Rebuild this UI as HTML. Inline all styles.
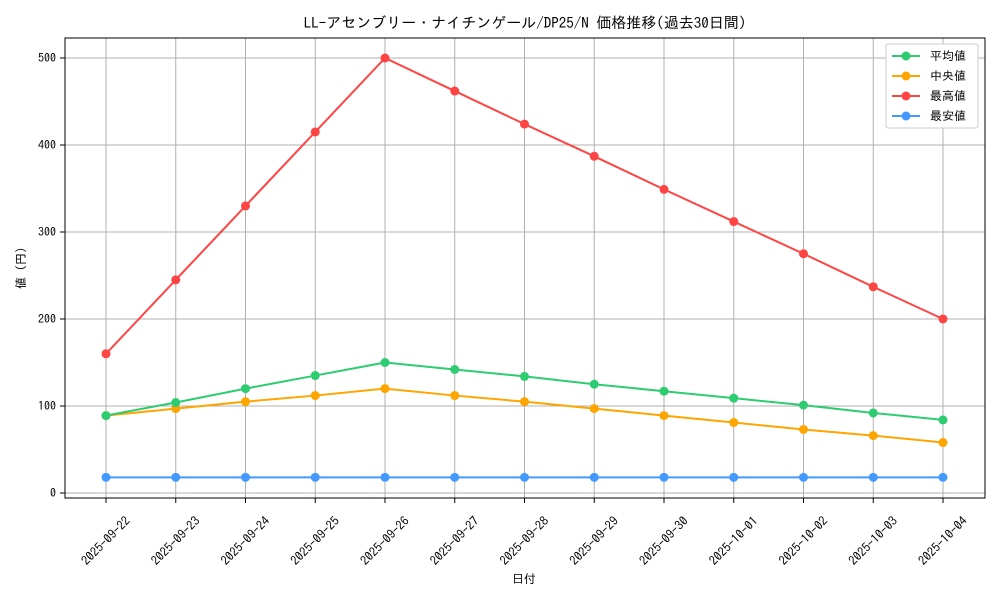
<!DOCTYPE html>
<html><head><meta charset="utf-8"><style>
html,body{margin:0;padding:0;background:#fff;}
svg text{font-family:"IPAGothic","Noto Sans CJK JP",sans-serif;fill:#000;}
</style></head><body>
<svg width="1000" height="600" xmlns="http://www.w3.org/2000/svg">
<rect width="1000" height="600" fill="#fff"/>
<text x="525" y="28" font-size="15" text-anchor="middle">LL-アセンブリー・ナイチンゲール/DP25/N 価格推移(過去30日間)</text>
<g stroke="#b0b0b0" stroke-width="1">
<line x1="106" y1="38" x2="106" y2="498"/><line x1="175.75" y1="38" x2="175.75" y2="498"/><line x1="245.5" y1="38" x2="245.5" y2="498"/><line x1="315.25" y1="38" x2="315.25" y2="498"/><line x1="385" y1="38" x2="385" y2="498"/><line x1="454.75" y1="38" x2="454.75" y2="498"/><line x1="524.5" y1="38" x2="524.5" y2="498"/><line x1="594.25" y1="38" x2="594.25" y2="498"/><line x1="664" y1="38" x2="664" y2="498"/><line x1="733.75" y1="38" x2="733.75" y2="498"/><line x1="803.5" y1="38" x2="803.5" y2="498"/><line x1="873.25" y1="38" x2="873.25" y2="498"/><line x1="943" y1="38" x2="943" y2="498"/>
<line x1="65" y1="493" x2="985" y2="493"/><line x1="65" y1="406" x2="985" y2="406"/><line x1="65" y1="319" x2="985" y2="319"/><line x1="65" y1="232" x2="985" y2="232"/><line x1="65" y1="145" x2="985" y2="145"/><line x1="65" y1="58" x2="985" y2="58"/>
</g>
<rect x="65" y="38" width="920" height="460" fill="none" stroke="#000" stroke-width="1"/>
<g font-size="12" text-anchor="end">
<text x="56" y="497">0</text><text x="56" y="410">100</text><text x="56" y="323">200</text><text x="56" y="236">300</text><text x="56" y="149">400</text><text x="56" y="62">500</text>
</g>
<g stroke="#000"><line x1="60" y1="493" x2="65" y2="493"/><line x1="60" y1="406" x2="65" y2="406"/><line x1="60" y1="319" x2="65" y2="319"/><line x1="60" y1="232" x2="65" y2="232"/><line x1="60" y1="145" x2="65" y2="145"/><line x1="60" y1="58" x2="65" y2="58"/></g>
<g font-size="12.5" text-anchor="middle" id="xl"></g>
<text x="524" y="583" font-size="12" text-anchor="middle">日付</text>
<text transform="translate(25,268) rotate(-90)" font-size="12" text-anchor="middle">値 (円)</text>
<g id="series"></g>
<rect x="886" y="44" width="92" height="84" fill="#fff" stroke="#ccc" rx="2"/>
<g font-size="12">
<line x1="892" y1="56" x2="920" y2="56" stroke="#2ecc71" stroke-width="2"/><circle cx="906" cy="56" r="4.5" fill="#2ecc71"/><text x="930" y="60">平均値</text>
<line x1="892" y1="76" x2="920" y2="76" stroke="#ffa500" stroke-width="2"/><circle cx="906" cy="76" r="4.5" fill="#ffa500"/><text x="930" y="80"> 中央値</text>
<line x1="892" y1="96" x2="920" y2="96" stroke="#ff4444" stroke-width="2"/><circle cx="906" cy="96" r="4.5" fill="#ff4444"/><text x="930" y="100">最高値</text>
<line x1="892" y1="116" x2="920" y2="116" stroke="#4499ff" stroke-width="2"/><circle cx="906" cy="116" r="4.5" fill="#4499ff"/><text x="930" y="120">最安値</text>
</g>
</svg>
<script>
var dates=["2025-09-22","2025-09-23","2025-09-24","2025-09-25","2025-09-26","2025-09-27","2025-09-28","2025-09-29","2025-09-30","2025-10-01","2025-10-02","2025-10-03","2025-10-04"];
var ns="http://www.w3.org/2000/svg";
function X(i){return 106+i*69.75;}function Y(v){return 493-v*0.87;}
var xl=document.getElementById("xl");
dates.forEach(function(d,i){var t=document.createElementNS(ns,"text");var x=X(i),y=541;t.setAttribute("x",x);t.setAttribute("y",y+4);t.setAttribute("transform","rotate(-45 "+x+" "+y+")");t.textContent=d;xl.appendChild(t);
var l=document.createElementNS(ns,"line");l.setAttribute("x1",X(i));l.setAttribute("x2",X(i));l.setAttribute("y1",498);l.setAttribute("y2",503);l.setAttribute("stroke","#000");xl.appendChild(l);});
var S=[["#4499ff",[18,18,18,18,18,18,18,18,18,18,18,18,18]],["#ffa500",[89,97,105,112,120,112,105,97,89,81,73,66,58]],["#2ecc71",[89,104,120,135,150,142,134,125,117,109,101,92,84]],["#ff4444",[160,245,330,415,500,462,424,387,349,312,275,237,200]]];
var g=document.getElementById("series");
S.forEach(function(s){var p=s[1].map(function(v,i){return X(i)+","+Y(v)}).join(" ");var pl=document.createElementNS(ns,"polyline");pl.setAttribute("points",p);pl.setAttribute("fill","none");pl.setAttribute("stroke",s[0]);pl.setAttribute("stroke-width","2");g.appendChild(pl);
s[1].forEach(function(v,i){var c=document.createElementNS(ns,"circle");c.setAttribute("cx",X(i));c.setAttribute("cy",Y(v));c.setAttribute("r","4.5");c.setAttribute("fill",s[0]);g.appendChild(c);});});
</script>
</body></html>
